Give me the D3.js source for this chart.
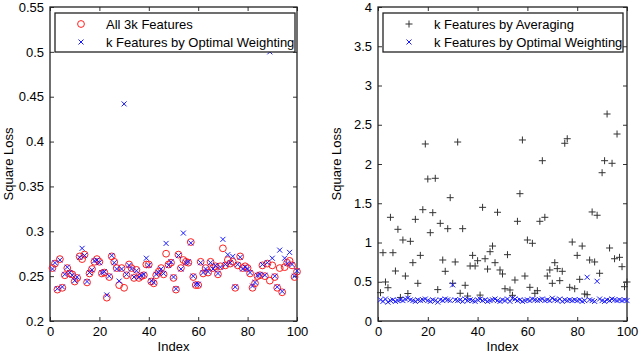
<!DOCTYPE html>
<html>
<head>
<meta charset="utf-8">
<script src="https://cdn.jsdelivr.net/npm/d3@7"></script>
<style>
  body { margin: 0; background: #fff; }
  svg text { font-family: "Liberation Sans", Arial, sans-serif; fill: #000; }
</style>
</head>
<body>
<div id="chart"></div>
<script>
// Square loss per index
const allFeatures = [
  0.259, 0.264, 0.235, 0.269, 0.237, 0.251, 0.259, 0.253, 0.252, 0.244,
  0.248, 0.272, 0.269, 0.274, 0.243, 0.253, 0.258, 0.266, 0.269, 0.266,
  0.253, 0.254, 0.226, 0.249, 0.272, 0.266, 0.259, 0.240, 0.259, 0.237,
  0.251, 0.263, 0.259, 0.248, 0.257, 0.248, 0.250, 0.251, 0.263, 0.263,
  0.244, 0.242, 0.251, 0.255, 0.259, 0.252, 0.275, 0.263, 0.265, 0.248,
  0.235, 0.274, 0.259, 0.268, 0.266, 0.265, 0.288, 0.249, 0.240, 0.240,
  0.266, 0.253, 0.259, 0.254, 0.266, 0.259, 0.261, 0.252, 0.261, 0.281,
  0.262, 0.268, 0.264, 0.266, 0.237, 0.262, 0.272, 0.259, 0.261, 0.259,
  0.253, 0.237, 0.242, 0.250, 0.251, 0.262, 0.250, 0.264, 0.245, 0.262,
  0.249, 0.237, 0.259, 0.232, 0.260, 0.265, 0.267, 0.262, 0.249, 0.255
];
const optimalLeft = [
  0.258, 0.265, 0.236, 0.268, 0.238, 0.252, 0.260, 0.254, 0.251, 0.245,
  0.249, 0.271, 0.281, 0.273, 0.244, 0.254, 0.257, 0.267, 0.268, 0.265,
  0.254, 0.255, 0.229, 0.250, 0.273, 0.265, 0.258, 0.2445, 0.258, 0.442,
  0.252, 0.262, 0.258, 0.249, 0.256, 0.249, 0.251, 0.252, 0.270, 0.262,
  0.245, 0.243, 0.252, 0.254, 0.258, 0.253, 0.2865, 0.262, 0.266, 0.249,
  0.236, 0.273, 0.258, 0.298, 0.265, 0.266, 0.287, 0.250, 0.241, 0.241,
  0.265, 0.254, 0.258, 0.255, 0.265, 0.258, 0.262, 0.253, 0.260, 0.291,
  0.263, 0.274, 0.265, 0.272, 0.238, 0.263, 0.271, 0.258, 0.260, 0.258,
  0.254, 0.239, 0.243, 0.251, 0.252, 0.263, 0.251, 0.265, 0.500, 0.270,
  0.250, 0.238, 0.279, 0.233, 0.270, 0.264, 0.2765, 0.263, 0.250, 0.256
];
const averaging = [
  0.361, 0.870, 0.497, 0.424, 1.321, 0.870, 0.637, 1.168, 0.300, 1.032,
  0.573, 0.350, 1.015, 0.743, 1.295, 0.480, 0.836, 1.418, 2.255, 1.809,
  1.125, 1.380, 1.818, 0.400, 1.244, 0.777, 0.633, 1.176, 1.571, 0.480,
  0.752, 2.280, 0.353, 1.176, 0.455, 0.318, 0.701, 0.836, 0.701, 0.768,
  0.330, 1.448, 0.793, 0.662, 0.883, 0.955, 0.743, 1.385, 0.650, 0.599,
  0.411, 0.845, 0.395, 0.327, 0.522, 1.270, 1.622, 2.306, 0.573, 1.032,
  0.429, 0.990, 0.353, 0.386, 1.270, 2.042, 1.321, 0.573, 0.650, 0.480,
  0.743, 0.667, 0.514, 0.633, 2.264, 2.322, 0.429, 1.006, 0.411, 0.836,
  0.531, 0.955, 0.344, 0.335, 0.777, 1.389, 0.752, 1.347, 0.608, 1.889,
  2.042, 2.637, 0.930, 2.009, 0.793, 2.382, 0.811, 0.692, 0.437, 0.497
];
const optimalRight = [
  0.27, 0.25, 0.28, 0.24, 0.26, 0.27, 0.25, 0.26, 0.27, 0.26,
  0.28, 0.29, 0.27, 0.26, 0.25, 0.27, 0.26, 0.27, 0.28, 0.26,
  0.25, 0.27, 0.26, 0.24, 0.27, 0.26, 0.28, 0.27, 0.26, 0.46,
  0.27, 0.26, 0.27, 0.25, 0.28, 0.26, 0.27, 0.26, 0.25, 0.27,
  0.28, 0.26, 0.27, 0.25, 0.26, 0.27, 0.28, 0.26, 0.25, 0.27,
  0.26, 0.28, 0.25, 0.29, 0.28, 0.26, 0.27, 0.25, 0.26, 0.27,
  0.26, 0.28, 0.27, 0.26, 0.27, 0.28, 0.26, 0.27, 0.26, 0.29,
  0.27, 0.26, 0.28, 0.25, 0.27, 0.26, 0.27, 0.26, 0.27, 0.26,
  0.27, 0.25, 0.26, 0.557, 0.27, 0.26, 0.25, 0.506, 0.28, 0.26,
  0.25, 0.27, 0.26, 0.28, 0.27, 0.26, 0.27, 0.26, 0.27, 0.26
];
const xTicks = [0, 20, 40, 60, 80, 100];
const leftYTicks = [0.2, 0.25, 0.3, 0.35, 0.4, 0.45, 0.5, 0.55];
const rightYTicks = [0, 0.5, 1, 1.5, 2, 2.5, 3, 3.5, 4];

const width = 640, height = 354;
const svg = d3.select("#chart").append("svg")
  .attr("width", width)
  .attr("height", height);

// Draw one panel: frame, inward ticks on all four sides, labels
function panel(opts) {
  const x = d3.scaleLinear().domain([0, 100]).range([opts.left, opts.right]);
  const y = d3.scaleLinear().domain(opts.yDomain).range([opts.bottom, opts.top]);
  const g = svg.append("g");
  const tick = 4;

  g.append("g").attr("transform", `translate(0,${opts.bottom})`)
    .call(d3.axisBottom(x).tickValues(xTicks).tickSizeInner(-tick).tickSizeOuter(0).tickPadding(6))
    .call(s => s.select(".domain").remove());
  g.append("g").attr("transform", `translate(0,${opts.top})`)
    .call(d3.axisTop(x).tickValues(xTicks).tickSizeInner(-tick).tickSizeOuter(0).tickFormat(""))
    .call(s => s.select(".domain").remove());
  g.append("g").attr("transform", `translate(${opts.left},0)`)
    .call(d3.axisLeft(y).tickValues(opts.yTicks).tickSizeInner(-tick).tickSizeOuter(0).tickPadding(6)
      .tickFormat(d3.format("~g")))
    .call(s => s.select(".domain").remove());
  g.append("g").attr("transform", `translate(${opts.right},0)`)
    .call(d3.axisRight(y).tickValues(opts.yTicks).tickSizeInner(-tick).tickSizeOuter(0).tickFormat(""))
    .call(s => s.select(".domain").remove());

  g.selectAll(".tick text").attr("font-size", "13px")
    .style("font-family", "Liberation Sans, Arial, sans-serif");
  g.selectAll(".tick line").attr("stroke", "#333");

  g.append("rect")
    .attr("x", opts.left).attr("y", opts.top)
    .attr("width", opts.right - opts.left).attr("height", opts.bottom - opts.top)
    .attr("fill", "none").attr("stroke", "#222").attr("stroke-width", 1.3);

  g.append("text")
    .attr("x", (opts.left + opts.right) / 2).attr("y", 351)
    .attr("text-anchor", "middle").attr("font-size", "13px")
    .text("Index");
  g.append("text")
    .attr("transform", `translate(${opts.left - 37},${(opts.top + opts.bottom) / 2}) rotate(-90)`)
    .attr("text-anchor", "middle").attr("font-size", "13px")
    .text("Square Loss");

  return { g, x, y };
}

function circles(p, values, color) {
  const data = values.map((v, k) => ({ i: k + 1, v }));
  p.g.append("g").selectAll("circle").data(data).join("circle")
    .attr("cx", d => p.x(d.i)).attr("cy", d => p.y(d.v)).attr("r", 3.4)
    .attr("fill", "none").attr("stroke", color).attr("stroke-width", 1);
}

function crosses(p, values, color, s) {
  const data = values.map((v, k) => ({ i: k + 1, v }));
  p.g.append("g").selectAll("path").data(data).join("path")
    .attr("d", d => {
      const cx = p.x(d.i), cy = p.y(d.v);
      return `M${cx - s},${cy - s}L${cx + s},${cy + s}M${cx - s},${cy + s}L${cx + s},${cy - s}`;
    })
    .attr("stroke", color).attr("stroke-width", 1).attr("fill", "none");
}

function pluses(p, values, color, s) {
  const data = values.map((v, k) => ({ i: k + 1, v }));
  p.g.append("g").selectAll("path").data(data).join("path")
    .attr("d", d => {
      const cx = p.x(d.i), cy = p.y(d.v);
      return `M${cx - s},${cy}L${cx + s},${cy}M${cx},${cy - s}L${cx},${cy + s}`;
    })
    .attr("stroke", color).attr("stroke-width", 1).attr("fill", "none");
}

function legend(p, x0, x1, entries) {
  const top = 13, bottom = 52;
  p.g.append("rect")
    .attr("x", x0).attr("y", top).attr("width", x1 - x0).attr("height", bottom - top)
    .attr("fill", "#fff").attr("stroke", "#222").attr("stroke-width", 1.3);
  entries.forEach((e, k) => {
    const cy = 24 + k * 18;
    const mx = x0 + 26;
    if (e.kind === "circle") {
      p.g.append("circle").attr("cx", mx).attr("cy", cy).attr("r", 3.4)
        .attr("fill", "none").attr("stroke", e.color);
    } else if (e.kind === "x") {
      p.g.append("path").attr("d", `M${mx - 2.5},${cy - 2.5}L${mx + 2.5},${cy + 2.5}M${mx - 2.5},${cy + 2.5}L${mx + 2.5},${cy - 2.5}`)
        .attr("stroke", e.color);
    } else {
      p.g.append("path").attr("d", `M${mx - 3.5},${cy}L${mx + 3.5},${cy}M${mx},${cy - 3.5}L${mx},${cy + 3.5}`)
        .attr("stroke", e.color);
    }
    p.g.append("text").attr("x", x0 + 51).attr("y", cy + 5)
      .attr("font-size", "13px").text(e.label);
  });
}

// Left panel
const pl = panel({ left: 50, right: 297, top: 7, bottom: 321, yDomain: [0.2, 0.55], yTicks: leftYTicks });
circles(pl, allFeatures, "#ff2020");
crosses(pl, optimalLeft, "#1a1aff", 2.5);
legend(pl, 55, 295, [
  { kind: "circle", color: "#ff2020", label: "All 3k Features" },
  { kind: "x", color: "#1a1aff", label: "k Features by Optimal Weighting" }
]);

// Right panel
const pr = panel({ left: 378, right: 627, top: 7, bottom: 321, yDomain: [0, 4], yTicks: rightYTicks });
pluses(pr, averaging, "#333", 3.5);
crosses(pr, optimalRight, "#1a1aff", 2.5);
legend(pr, 383, 623, [
  { kind: "plus", color: "#333", label: "k Features by Averaging" },
  { kind: "x", color: "#1a1aff", label: "k Features by Optimal Weighting" }
]);
</script>
</body>
</html>
